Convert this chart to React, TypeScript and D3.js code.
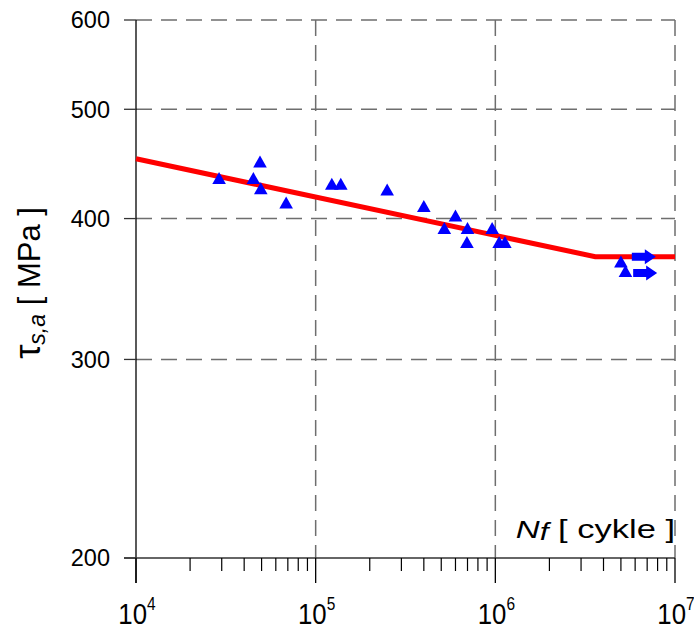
import React from "react";
import * as d3 from "d3";

const cycles = [2.9e4, 4.5e4, 4.9e4, 4.95e4, 6.85e4, 1.23e5, 1.38e5, 2.5e5, 4.0e5, 6.0e5, 5.2e5, 7.0e5, 6.95e5, 9.6e5, 1.05e6, 1.13e6, 5.0e6, 5.3e6];
const stress = [434, 434, 449, 425, 413, 429, 429, 424, 410, 402, 392, 392, 381, 392, 381, 381, 366, 359];
const runoutCycles = [5.75e6, 5.85e6];
const runoutStress = [370, 358];
const fitCycles = [1e4, 3.6e6, 1e7];
const fitStress = [452, 370, 370];
const yTicks = [200, 300, 400, 500, 600];
const xDecades = [4, 5, 6, 7];

const W = 694;
const H = 631;
const left = 136;
const right = 675;
const top = 20;
const bottom = 558;
const FONT = "'Liberation Sans', Arial, sans-serif";

export default function App() {
  const x = d3.scaleLog().domain([1e4, 1e7]).range([left, right]);
  const y = d3.scaleLog().domain([200, 600]).range([bottom, top]);

  const minor: number[] = [];
  for (let d = 4; d < 7; d++) for (let m = 2; m <= 9; m++) minor.push(m * Math.pow(10, d));

  const line = d3
    .line<number>()
    .x((_, i) => x(fitCycles[i]))
    .y((d) => y(d));

  const tri = (cx: number, cy: number) =>
    `M${cx},${cy - 6.5}L${cx + 6.8},${cy + 5.5}L${cx - 6.8},${cy + 5.5}Z`;
  const arrow = (sx: number, sy: number) =>
    `M${sx},${sy - 4}L${sx + 13},${sy - 4}L${sx + 13},${sy - 7.5}L${sx + 24},${sy}L${sx + 13},${sy + 7.5}L${sx + 13},${sy + 4}L${sx},${sy + 4}Z`;

  const dash = "16,9";
  const gridColor = "#6e6e6e";

  return (
    <svg width={W} height={H} style={{ position: "absolute", left: 0, top: 0, background: "#fff" }}>
      <rect x={0} y={0} width={W} height={H} fill="#fff" />
      {/* horizontal grid */}
      {yTicks.filter((t) => t > 200).map((t) => (
        <line key={"hg" + t} x1={left} x2={right} y1={y(t)} y2={y(t)} stroke={gridColor} strokeWidth={1.5} strokeDasharray={dash} />
      ))}
      {/* vertical grid */}
      {xDecades.filter((d) => d > 4).map((d) => (
        <line key={"vg" + d} x1={x(Math.pow(10, d))} x2={x(Math.pow(10, d))} y1={top} y2={bottom} stroke={gridColor} strokeWidth={1.5} strokeDasharray={dash} />
      ))}
      {/* axes */}
      <line x1={left} x2={left} y1={top} y2={bottom + 25} stroke="#000" strokeWidth={1.3} />
      <line x1={left - 12} x2={right} y1={bottom} y2={bottom} stroke="#333" strokeWidth={1.3} />
      {yTicks.map((t) => (
        <g key={"yt" + t}>
          <line x1={left - 12} x2={left} y1={y(t)} y2={y(t)} stroke="#333" strokeWidth={1.3} />
          <text x={110} y={y(t)} dy="0.36em" textAnchor="end" fontFamily={FONT} fontSize={23.5} fill="#000">
            {t}
          </text>
        </g>
      ))}
      {xDecades.map((d) => (
        <g key={"xt" + d}>
          <line x1={x(Math.pow(10, d))} x2={x(Math.pow(10, d))} y1={bottom} y2={bottom + 25} stroke="#000" strokeWidth={1.3} />
          <text
            transform={`translate(${x(Math.pow(10, d)) + 1},624) scale(0.86,1)`}
            textAnchor="middle"
            fontFamily={FONT}
            fontSize={30}
            fill="#000"
          >
            10
            <tspan fontSize={18} dy={-14}>{d}</tspan>
          </text>
        </g>
      ))}
      {minor.map((v) => (
        <line key={"mn" + v} x1={x(v)} x2={x(v)} y1={bottom} y2={bottom + 13} stroke="#000" strokeWidth={1.2} />
      ))}
      {/* fit line */}
      <path d={line(fitStress) || ""} fill="none" stroke="#ff0000" strokeWidth={5} />
      {/* data points */}
      {cycles.map((c, i) => (
        <path key={"p" + i} d={tri(x(c), y(stress[i]))} fill="#0000ff" />
      ))}
      {runoutCycles.map((c, i) => (
        <path key={"r" + i} d={arrow(x(c), y(runoutStress[i]))} fill="#0000ff" />
      ))}
      {/* axis titles */}
      <text transform="translate(675,538) scale(1.38,1)" textAnchor="end" fontFamily={FONT} fontSize={24} fill="#000">
        <tspan fontStyle="italic">N</tspan>
        <tspan fontStyle="italic" fontSize={23} dy={2}>f</tspan>
        <tspan dy={-2} fontSize={25}> [ cykle ]</tspan>
      </text>
      <text transform="translate(40,283) rotate(-90)" textAnchor="middle" fontFamily={FONT} fontSize={31} fill="#000">
        <tspan fontSize={36}>τ</tspan>
        <tspan fontStyle="italic" fontSize={23} dy={5}>s,a</tspan>
        <tspan dy={-5}> [ MPa ]</tspan>
      </text>
    </svg>
  );
}
